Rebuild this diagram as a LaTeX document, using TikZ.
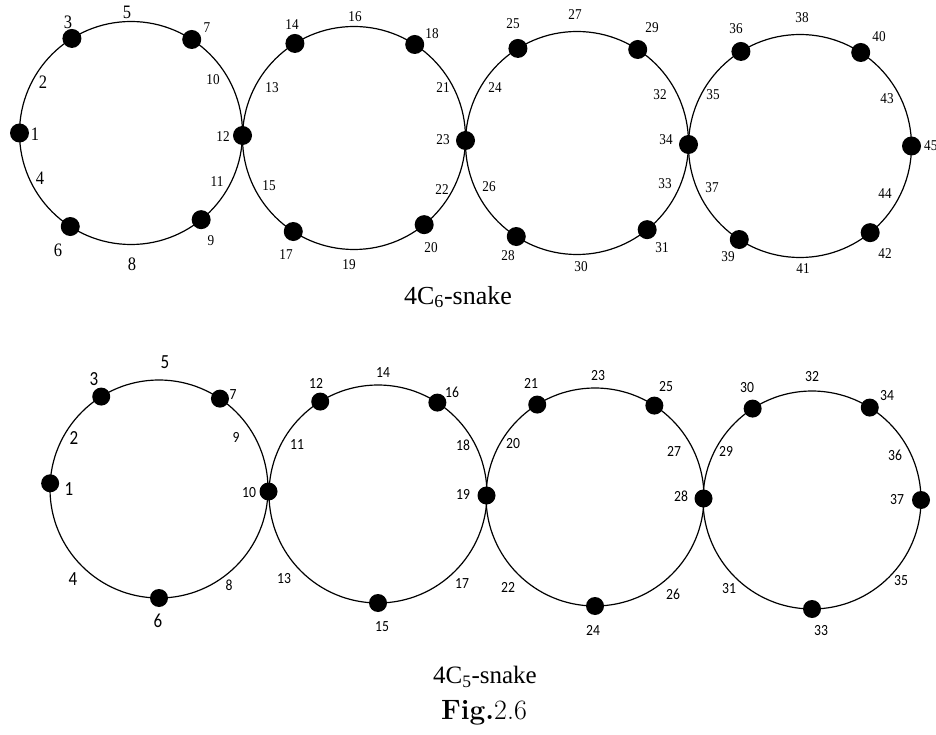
\documentclass[tikz,border=0pt]{standalone}
\usepackage{fontspec}
\newfontfamily\timesfont{Liberation Serif}
\newfontfamily\califont{Carlito}
\usepackage{tikz}
\usetikzlibrary{calc}

\tikzset{
  vtx/.style={circle, fill=black, inner sep=0pt, minimum size=19pt},
  bvtx/.style={circle, fill=black, inner sep=0pt, minimum size=18pt},
  tsmall/.style={font=\timesfont\fontsize{15}{18}\selectfont, inner sep=0pt, xscale=0.88},
  tbig/.style={font=\timesfont\fontsize{19}{22}\selectfont, inner sep=0pt, xscale=0.87},
  bsmall/.style={font=\califont\fontsize{15.5}{18}\selectfont, inner sep=0pt, xscale=0.88},
  bbig/.style={font=\califont\fontsize{20}{24}\selectfont, inner sep=0pt, xscale=0.85},
}

\begin{document}
\begin{tikzpicture}[x=1pt, y=1pt]
  \useasboundingbox (0,0) rectangle (936,734);
  % centres of the cycles
  \coordinate (c1) at (131,601);
  \coordinate (c2) at (354,596);
  \coordinate (c3) at (577,591);
  \coordinate (c4) at (800,588);
  \coordinate (d1) at (159,245);
  \coordinate (d2) at (378,240);
  \coordinate (d3) at (595,237);
  \coordinate (d4) at (812,234);
  % cycles
  \draw[line width=1.2pt] (c1) circle[radius=111.5pt];
  \draw[line width=1.2pt] (c2) circle[radius=111.5pt];
  \draw[line width=1.2pt] (c3) circle[radius=111.5pt];
  \draw[line width=1.2pt] (c4) circle[radius=111.5pt];
  \draw[line width=1.2pt] (d1) circle[radius=109pt];
  \draw[line width=1.2pt] (d2) circle[radius=109pt];
  \draw[line width=1.2pt] (d3) circle[radius=109pt];
  \draw[line width=1.2pt] (d4) circle[radius=109pt];

  % 4C6-snake: vertices
  \node[vtx] (t1) at ([shift={(180:111.5)}]c1) {};
  \node[vtx] (t3) at ([shift={(122:111.5)}]c1) {};
  \node[vtx] (t7) at ([shift={(57:111.5)}]c1) {};
  \node[vtx] (t9) at ([shift={(-51:111.5)}]c1) {};
  \node[vtx] (t6) at ([shift={(-123:111.5)}]c1) {};
  \node[vtx] (t12) at ($(c1)!0.5!(c2)$) {};
  \node[vtx] (t14) at ([shift={(122:111.5)}]c2) {};
  \node[vtx] (t18) at ([shift={(57:111.5)}]c2) {};
  \node[vtx] (t20) at ([shift={(-51:111.5)}]c2) {};
  \node[vtx] (t17) at ([shift={(-123:111.5)}]c2) {};
  \node[vtx] (t23) at ($(c2)!0.5!(c3)$) {};
  \node[vtx] (t25) at ([shift={(122:111.5)}]c3) {};
  \node[vtx] (t29) at ([shift={(57:111.5)}]c3) {};
  \node[vtx] (t31) at ([shift={(-51:111.5)}]c3) {};
  \node[vtx] (t28) at ([shift={(-123:111.5)}]c3) {};
  \node[vtx] (t34) at ($(c3)!0.5!(c4)$) {};
  \node[vtx] (t36) at ([shift={(122:111.5)}]c4) {};
  \node[vtx] (t40) at ([shift={(57:111.5)}]c4) {};
  \node[vtx] (t45) at ([shift={(0:111.5)}]c4) {};
  \node[vtx] (t42) at ([shift={(-51:111.5)}]c4) {};
  \node[vtx] (t39) at ([shift={(-123:111.5)}]c4) {};

  % 4C6-snake: labels
  \node[tbig] (tl5) at (127,722) {5};
  \node[tbig] (tl3) at (68,712) {3};
  \node[tsmall] (tl7) at (207,706) {7};
  \node[tbig] (tl2) at (43,652) {2};
  \node[tsmall] (tl10) at (213,654) {10};
  \node[tbig] (tl1) at (35,600) {1};
  \node[tsmall] (tl12) at (223,597) {12};
  \node[tbig] (tl4) at (40,556) {4};
  \node[tsmall] (tl11) at (217,552) {11};
  \node[tbig] (tl6) at (58,484) {6};
  \node[tsmall] (tl9) at (211,493) {9};
  \node[tbig] (tl8) at (132,470) {8};
  \node[tsmall] (tl14) at (292,709) {14};
  \node[tsmall] (tl16) at (355,717) {16};
  \node[tsmall] (tl18) at (432,700) {18};
  \node[tsmall] (tl13) at (272,646) {13};
  \node[tsmall] (tl21) at (443,646) {21};
  \node[tsmall] (tl23) at (443,594) {23};
  \node[tsmall] (tl15) at (269,548) {15};
  \node[tsmall] (tl22) at (442,544) {22};
  \node[tsmall] (tl17) at (286,479) {17};
  \node[tsmall] (tl19) at (349,469) {19};
  \node[tsmall] (tl20) at (431,486) {20};
  \node[tsmall] (tl25) at (513,710) {25};
  \node[tsmall] (tl27) at (575,719) {27};
  \node[tsmall] (tl29) at (652,706) {29};
  \node[tsmall] (tl24) at (495,646) {24};
  \node[tsmall] (tl32) at (660,639) {32};
  \node[tsmall] (tl34) at (666,594) {34};
  \node[tsmall] (tl26) at (489,547) {26};
  \node[tsmall] (tl33) at (665,550) {33};
  \node[tsmall] (tl28) at (508,478) {28};
  \node[tsmall] (tl30) at (581,467) {30};
  \node[tsmall] (tl31) at (662,486) {31};
  \node[tsmall] (tl36) at (736,705) {36};
  \node[tsmall] (tl38) at (802,716) {38};
  \node[tsmall] (tl40) at (879,697) {40};
  \node[tsmall] (tl35) at (713,639) {35};
  \node[tsmall] (tl43) at (887,635) {43};
  \node[tsmall, anchor=west] (tl45) at (924,588) {45};
  \node[tsmall] (tl37) at (712,546) {37};
  \node[tsmall] (tl44) at (885,540) {44};
  \node[tsmall] (tl39) at (728,477) {39};
  \node[tsmall] (tl41) at (803,465) {41};
  \node[tsmall] (tl42) at (885,480) {42};
  \node[font=\timesfont\fontsize{26}{30}\selectfont] (top) at (458,437) {4C\textsubscript{6}-snake};

  % 4C5-snake: vertices
  \node[bvtx] (b1) at ([shift={(177:109)}]d1) {};
  \node[bvtx] (b3) at ([shift={(122:109)}]d1) {};
  \node[bvtx] (b7) at ([shift={(56:109)}]d1) {};
  \node[bvtx] (b6) at ([shift={(-90:109)}]d1) {};
  \node[bvtx] (b10) at ($(d1)!0.5!(d2)$) {};
  \node[bvtx] (b12) at ([shift={(122:109)}]d2) {};
  \node[bvtx] (b16) at ([shift={(57:109)}]d2) {};
  \node[bvtx] (b15) at ([shift={(-90:109)}]d2) {};
  \node[bvtx] (b19) at ($(d2)!0.5!(d3)$) {};
  \node[bvtx] (b21) at ([shift={(122:109)}]d3) {};
  \node[bvtx] (b25) at ([shift={(57:109)}]d3) {};
  \node[bvtx] (b24) at ([shift={(-90:109)}]d3) {};
  \node[bvtx] (b28) at ($(d3)!0.5!(d4)$) {};
  \node[bvtx] (b30) at ([shift={(123:109)}]d4) {};
  \node[bvtx] (b34) at ([shift={(58:109)}]d4) {};
  \node[bvtx] (b37) at ([shift={(0:109)}]d4) {};
  \node[bvtx] (b33) at ([shift={(-90:109)}]d4) {};

  % 4C5-snake: labels
  \node[bbig] (bl5) at (165,372) {5};
  \node[bbig] (bl3) at (94,355) {3};
  \node[bsmall] (bl7) at (233,339) {7};
  \node[bbig] (bl2) at (74,296) {2};
  \node[bsmall] (bl9) at (236,297) {9};
  \node[bbig] (bl1) at (69,245) {1};
  \node[bsmall] (bl10) at (249,241) {10};
  \node[bbig] (bl4) at (73,155) {4};
  \node[bsmall] (bl8) at (229,149) {8};
  \node[bbig] (bl6) at (158,113) {6};
  \node[bsmall] (bl12) at (316,351) {12};
  \node[bsmall] (bl14) at (383,361) {14};
  \node[bsmall] (bl16) at (452,342) {16};
  \node[bsmall] (bl11) at (297,289) {11};
  \node[bsmall] (bl18) at (463,289) {18};
  \node[bsmall] (bl19) at (463,240) {19};
  \node[bsmall] (bl13) at (284,155) {13};
  \node[bsmall] (bl17) at (462,150) {17};
  \node[bsmall] (bl15) at (382,107) {15};
  \node[bsmall] (bl21) at (531,351) {21};
  \node[bsmall] (bl23) at (598,358) {23};
  \node[bsmall] (bl25) at (666,347) {25};
  \node[bsmall] (bl20) at (513,290) {20};
  \node[bsmall] (bl27) at (674,283) {27};
  \node[bsmall] (bl28) at (681,238) {28};
  \node[bsmall] (bl22) at (508,147) {22};
  \node[bsmall] (bl26) at (673,140) {26};
  \node[bsmall] (bl24) at (593,104) {24};
  \node[bsmall] (bl30) at (747,346) {30};
  \node[bsmall] (bl32) at (812,357) {32};
  \node[bsmall] (bl34) at (887,338) {34};
  \node[bsmall] (bl29) at (726,283) {29};
  \node[bsmall] (bl36) at (895,279) {36};
  \node[bsmall] (bl37) at (897,234) {37};
  \node[bsmall] (bl31) at (729,145) {31};
  \node[bsmall] (bl35) at (901,153) {35};
  \node[bsmall] (bl33) at (821,103) {33};
  \node[font=\timesfont\fontsize{25}{30}\selectfont] (bottom) at (485,57) {4C\textsubscript{5}-snake};
  \node[font=\fontsize{28}{32}\selectfont] (fig) at (484,21) {\textbf{Fig.}2.6};
\end{tikzpicture}
\end{document}
